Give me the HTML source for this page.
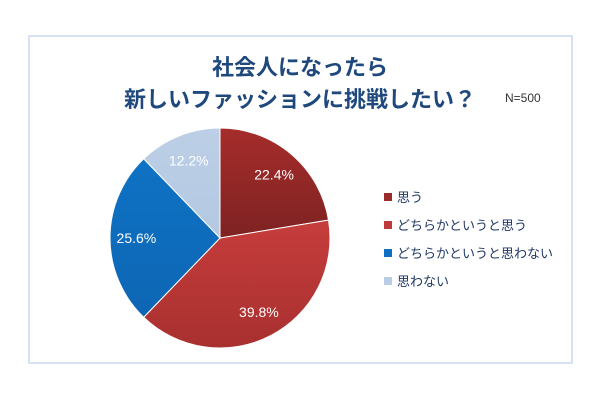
<!DOCTYPE html>
<html><head><meta charset="utf-8"><style>
body{margin:0;background:#fff;width:600px;height:400px;overflow:hidden;font-family:"Liberation Sans","Noto Sans CJK JP",sans-serif}
</style></head><body>
<svg width="600" height="400">
<defs>
<linearGradient id="g0" x1="0" y1="0" x2="0" y2="1"><stop offset="0" stop-color="#a52d2b"/><stop offset="1" stop-color="#7e2222"/></linearGradient>
<linearGradient id="g1" x1="0" y1="0" x2="0" y2="1"><stop offset="0" stop-color="#c63d3c"/><stop offset="1" stop-color="#a8302f"/></linearGradient>
<linearGradient id="g2" x1="0" y1="0" x2="0" y2="1"><stop offset="0" stop-color="#0f72c4"/><stop offset="1" stop-color="#0d66b4"/></linearGradient>
<linearGradient id="g3" x1="0" y1="0" x2="0" y2="1"><stop offset="0" stop-color="#bccfe6"/><stop offset="1" stop-color="#b3c8e2"/></linearGradient>
</defs>
<rect x="29" y="36" width="543" height="327" fill="#fff" stroke="#c6d9f1" stroke-width="1.5"/>
<text x="300" y="75" text-anchor="middle" font-size="22" font-weight="bold" fill="#1f497d" font-family="'Liberation Sans','Noto Sans CJK JP',sans-serif">社会人になったら</text>
<text x="300" y="107" text-anchor="middle" font-size="22" font-weight="bold" fill="#1f497d" font-family="'Liberation Sans','Noto Sans CJK JP',sans-serif">新しいファッションに挑戦したい？</text>
<text x="505" y="102" font-size="12" fill="#333">N=500</text>
<g id="pie"></g>
<g id="legend"></g>
</svg>
<script>
const categories=["思う","どちらかというと思う","どちらかというと思わない","思わない"];
const values=[22.4,39.8,25.6,12.2];
const labels=["22.4%","39.8%","25.6%","12.2%"];
const colors=["#9b2a2a","#c0393b","#0f6fc0","#b9cde5"];
const fills=["url(#g0)","url(#g1)","url(#g2)","url(#g3)"];
const cx=220,cy=238,r=110;
const ns="http://www.w3.org/2000/svg";
const pie=document.getElementById('pie');
const total=values.reduce((a,b)=>a+b,0);
let a0=-Math.PI/2;
values.forEach((v,i)=>{
  const a1=a0+v/total*2*Math.PI;
  const x0=cx+r*Math.cos(a0),y0=cy+r*Math.sin(a0),x1=cx+r*Math.cos(a1),y1=cy+r*Math.sin(a1);
  const p=document.createElementNS(ns,'path');
  p.setAttribute('d',`M${cx},${cy}L${x0},${y0}A${r},${r} 0 ${a1-a0>Math.PI?1:0} 1 ${x1},${y1}Z`);
  p.setAttribute('fill',fills[i]);
  p.setAttribute('stroke','#fff');p.setAttribute('stroke-width','1');
  
  
  pie.appendChild(p);
  const am=(a0+a1)/2;
  const t=document.createElementNS(ns,'text');
  t.setAttribute('x',cx+r*0.76*Math.cos(am));t.setAttribute('y',cy+r*0.76*Math.sin(am)+5);
  t.setAttribute('text-anchor','middle');t.setAttribute('font-size','14');t.setAttribute('fill','#fff');
  t.textContent=labels[i];
  
  
  pie.appendChild(t);
  a0=a1;
});
const lg=document.getElementById('legend');
categories.forEach((c,i)=>{
  const y=197+i*28;
  const s=document.createElementNS(ns,'rect');
  s.setAttribute('x',384);s.setAttribute('y',y-4);s.setAttribute('width',8);s.setAttribute('height',8);s.setAttribute('fill',colors[i]);
  
  
  lg.appendChild(s);
  const t=document.createElementNS(ns,'text');
  t.setAttribute('x',397);t.setAttribute('y',y+5);t.setAttribute('font-size','13');t.setAttribute('fill','#1f3864');
  t.setAttribute('font-family',"'Liberation Sans','Noto Sans CJK JP',sans-serif");
  t.textContent=c;
  
  
  lg.appendChild(t);
});
</script>
</body></html>
